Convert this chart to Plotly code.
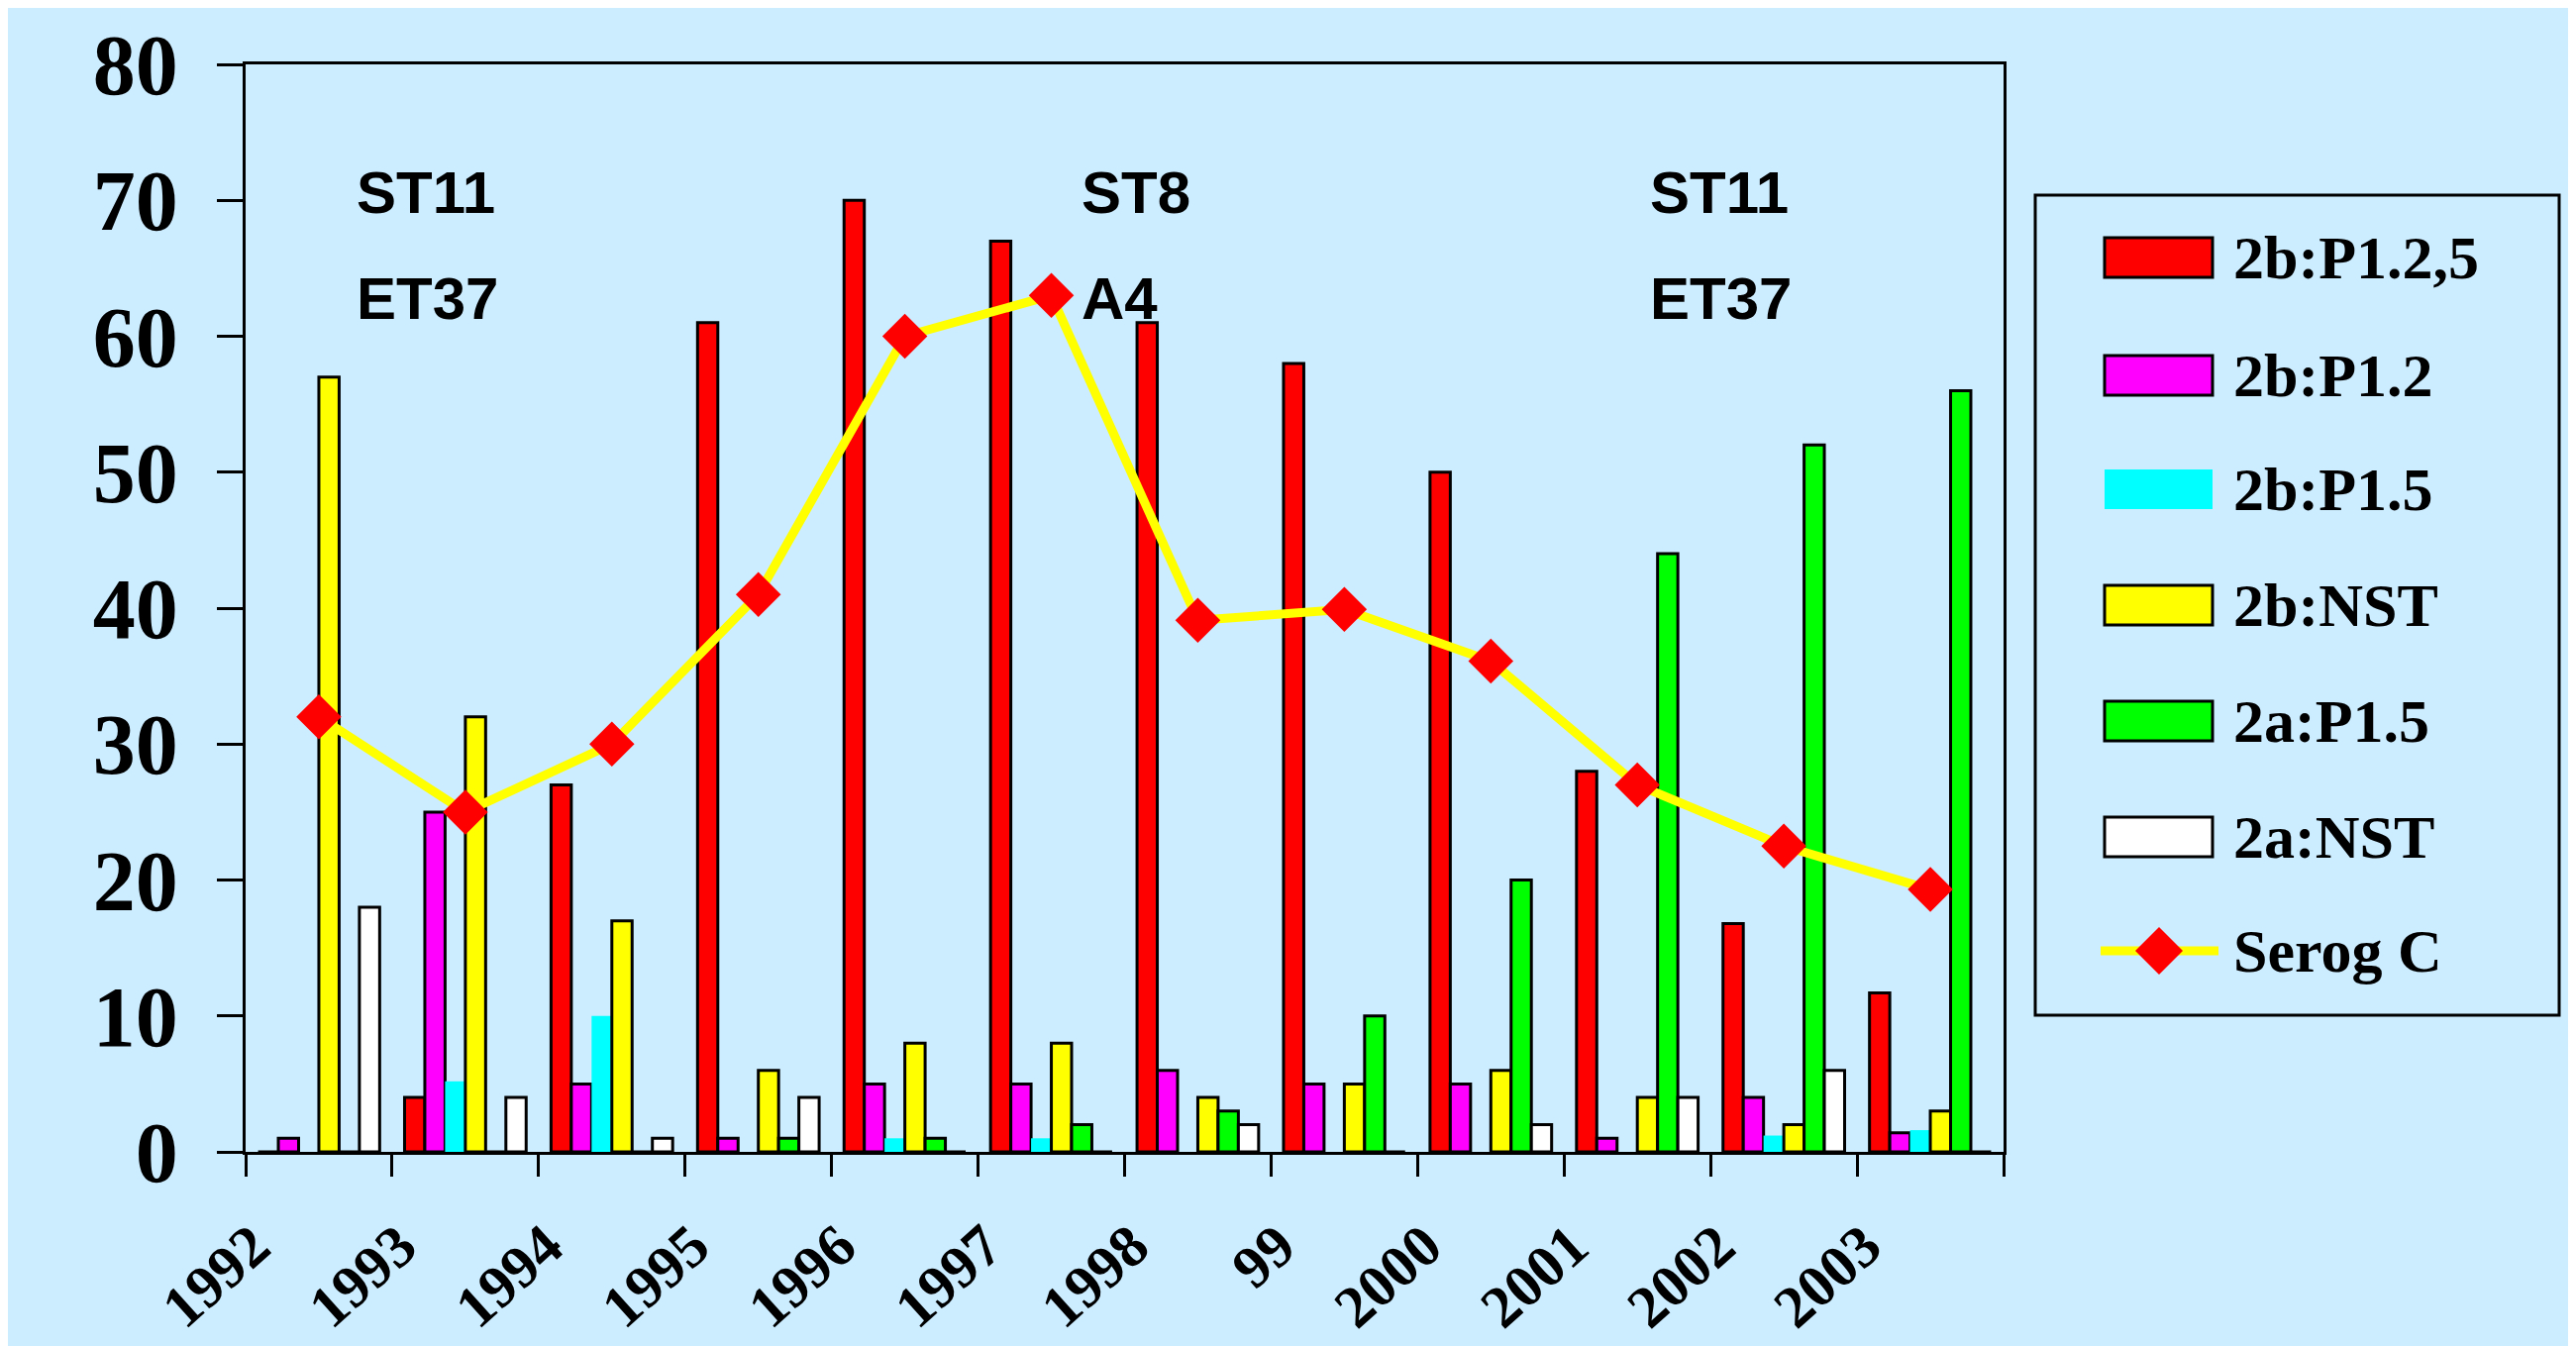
import plotly.graph_objects as go

years = ["1992", "1993", "1994", "1995", "1996", "1997", "1998", "99", "2000", "2001", "2002", "2003"]

series_names = ["2b:P1.2,5", "2b:P1.2", "2b:P1.5", "2b:NST", "2a:P1.5", "2a:NST"]
series_colors = ["#FF0000", "#FF00FF", "#00FFFF", "#FFFF00", "#00FF00", "#FFFFFF"]
series_outline = [3, 3, 0, 3, 3, 3]

b_p125 = [0, 4, 27, 61, 70, 67, 61, 58, 50, 28, 16.8, 11.7]
b_p12 = [1, 25, 5, 1, 5, 5, 6, 5, 5, 1, 4, 1.4]
b_p15 = [0, 5.2, 10, 0, 1, 1, 0, 0, 0, 0, 1.2, 1.6]
b_nst = [57, 32, 17, 6, 8, 8, 4, 5, 6, 4, 2, 3]
a_p15 = [0, 0, 0, 1, 1, 2, 3, 10, 20, 44, 52, 56]
a_nst = [18, 4, 1, 4, 0, 0, 2, 0, 2, 4, 6, 0]
series_values = [b_p125, b_p12, b_p15, b_nst, a_p15, a_nst]

serog_name = "Serog C"
serog_c = [32, 25, 30, 41, 60, 63, 39.1, 39.9, 36.1, 27, 22.5, 19.3]

y_ticks = [0, 10, 20, 30, 40, 50, 60, 70, 80]

BG = "#CCECFF"
W, H = 2601, 1359
L, R, T, B = 240, 2015, 57, 1155

def px(x):
    return (x - L) / (R - L)

def py(y):
    return (B - y) / (B - T)

fig = go.Figure()
for name, col, ow, vals in zip(series_names, series_colors, series_outline, series_values):
    fig.add_trace(go.Bar(
        x=years, y=vals, name=name,
        marker=dict(color=col, line=dict(color="black", width=ow)),
        showlegend=False,
    ))

fig.add_trace(go.Scatter(
    x=years, y=serog_c, name=serog_name, mode="lines+markers",
    line=dict(color="#FFFF00", width=9),
    marker=dict(symbol="diamond", size=35, color="#FF0000", line=dict(width=0)),
    showlegend=False,
))

shapes = []
annotations = []

# custom legend
shapes.append(dict(type="rect", xref="paper", yref="paper",
                   x0=px(2047), x1=px(2576), y0=py(1017), y1=py(189),
                   line=dict(color="black", width=3), fillcolor="rgba(0,0,0,0)", layer="above"))
leg_y = [252, 371, 486, 603, 720, 837, 952]
for i, (name, col, ow) in enumerate(zip(series_names, series_colors, series_outline)):
    yc = leg_y[i]
    shapes.append(dict(type="rect", xref="paper", yref="paper",
                       x0=px(2117), x1=px(2226), y0=py(yc + 20), y1=py(yc - 20),
                       fillcolor=col, line=dict(color="black", width=ow if ow else 0)))
    annotations.append(dict(text=name, xref="paper", yref="paper", x=px(2245), y=py(yc),
                            xanchor="left", yanchor="middle", showarrow=False,
                            font=dict(family="Liberation Serif", size=62, color="black", weight="bold")))
yc = leg_y[6]
shapes.append(dict(type="line", xref="paper", yref="paper", x0=px(2113), x1=px(2232),
                   y0=py(yc), y1=py(yc), line=dict(color="#FFFF00", width=9)))
dpath = "M {} {} L {} {} L {} {} L {} {} Z".format(
    px(2172 - 24), py(yc), px(2172), py(yc - 24), px(2172 + 24), py(yc), px(2172), py(yc + 24))
shapes.append(dict(type="path", xref="paper", yref="paper", path=dpath,
                   fillcolor="#FF0000", line=dict(width=0)))
annotations.append(dict(text=serog_name, xref="paper", yref="paper", x=px(2245), y=py(yc),
                        xanchor="left", yanchor="middle", showarrow=False,
                        font=dict(family="Liberation Serif", size=62, color="black", weight="bold")))

# in-plot labels
lab_font = dict(family="Liberation Sans", size=60, color="black", weight="bold")
for txt, xp, yv in [("ST11", 350, 70.6), ("ET37", 350, 62.8), ("ST8", 1082, 70.6),
                    ("A4", 1082, 62.8), ("ST11", 1656, 70.6), ("ET37", 1656, 62.8)]:
    annotations.append(dict(text=txt, xref="paper", yref="y", x=px(xp), y=yv,
                            xanchor="left", yanchor="middle", showarrow=False, font=lab_font))

fig.update_layout(
    width=W, height=H,
    margin=dict(l=L, r=W - R, t=T, b=H - B, autoexpand=False),
    paper_bgcolor=BG, plot_bgcolor=BG,
    barmode="group", bargap=0.17, bargroupgap=0,
    shapes=shapes, annotations=annotations,
    showlegend=False,
)
fig.update_xaxes(
    type="category", range=[-0.5, len(years) - 0.5], automargin=False,
    tickson="boundaries", ticks="outside", ticklen=22, tickwidth=3,
    tickcolor="black", showline=True, linecolor="black", linewidth=3, mirror=True,
    showgrid=False, zeroline=False, tickangle=-42,
    tickfont=dict(family="Liberation Serif", size=60, color="black", weight="bold"),
    ticklabelshift=-66, ticklabelstandoff=33,
)
fig.update_yaxes(
    range=[0, 80], tickvals=y_ticks, automargin=False, ticks="outside", ticklen=26, tickwidth=3,
    tickcolor="black", showline=True, linecolor="black", linewidth=3, mirror=True,
    showgrid=False, zeroline=False,
    tickfont=dict(family="Liberation Serif", size=86, color="black", weight="bold"),
    ticklabelstandoff=22,
)

fig.write_html("out.html")
